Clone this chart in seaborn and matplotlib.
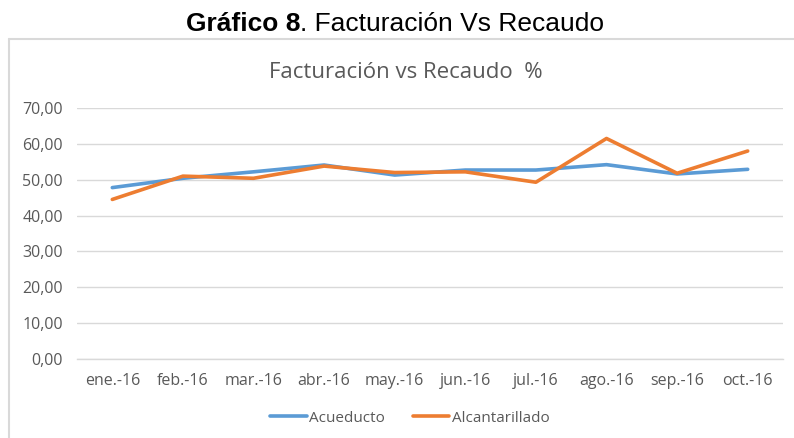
import pandas as pd
import matplotlib
matplotlib.use("Agg")
import matplotlib.pyplot as plt
import seaborn as sns
from matplotlib.lines import Line2D
from matplotlib.ticker import FuncFormatter, FixedLocator

# Datos
meses = ['ene.-16', 'feb.-16', 'mar.-16', 'abr.-16', 'may.-16',
         'jun.-16', 'jul.-16', 'ago.-16', 'sep.-16', 'oct.-16']
acueducto = [47.8, 50.4, 52.2, 54.1, 51.3, 52.7, 52.7, 54.2, 51.6, 52.9]
alcantarillado = [44.5, 51.0, 50.4, 53.8, 52.0, 52.2, 49.3, 61.5, 51.8, 58.0]

df = pd.DataFrame({'mes': meses, 'Acueducto': acueducto, 'Alcantarillado': alcantarillado})
df_long = df.melt(id_vars='mes', var_name='serie', value_name='valor')

sns.set_style('white')
plt.rcParams['font.family'] = ['Open Sans', 'DejaVu Sans']

gris = '#595959'
colores = {'Acueducto': '#5b9bd5', 'Alcantarillado': '#ed7d31'}

fig = plt.figure(figsize=(7.94, 4.38), dpi=100)
ax = fig.add_axes([77 / 794, 1 - 359 / 438, (783 - 77) / 794, (359 - 108) / 438])

sns.lineplot(data=df_long, x='mes', y='valor', hue='serie', palette=colores,
             linewidth=2.6, ax=ax, legend=False, sort=False)

ax.set_xlim(-0.5, len(meses) - 0.5)
ax.set_ylim(0, 70)
ax.set_yticks(range(0, 71, 10))
ax.yaxis.set_major_formatter(FuncFormatter(lambda v, p: f'{v:.2f}'.replace('.', ',')))
ax.grid(axis='y', color='#d9d9d9', linewidth=1)
ax.set_axisbelow(True)
for s in ['top', 'right', 'left']:
    ax.spines[s].set_visible(False)
ax.spines['bottom'].set_color('#d9d9d9')
ax.spines['bottom'].set_linewidth(1)

ax.xaxis.set_minor_locator(FixedLocator([i - 0.5 for i in range(len(meses) + 1)]))
ax.tick_params(axis='x', which='major', length=0, pad=10, labelsize=11.5, labelcolor=gris)
ax.tick_params(axis='x', which='minor', length=5, color='#d9d9d9', width=1)
ax.tick_params(axis='y', length=0, pad=10, labelsize=11.5, labelcolor=gris)
ax.set_xlabel('')
ax.set_ylabel('')

# Título interno
fig.text(406 / 794, 1 - 72 / 438, 'Facturación vs Recaudo  %', ha='center', va='center',
         fontsize=16, color=gris)

# Título externo
fig.text(300 / 794, 1 - 24 / 438, 'Gráfico 8', ha='right', va='center', fontsize=19,
         fontweight='bold', family=['Liberation Sans', 'DejaVu Sans'], color='black')
fig.text(300 / 794, 1 - 24 / 438, '. Facturación Vs Recaudo', ha='left', va='center',
         fontsize=19, family=['Liberation Sans', 'DejaVu Sans'], color='black')

# Borde del área del gráfico
fig.add_artist(Line2D([8.5 / 794, 8.5 / 794], [0, 1 - 38.5 / 438], transform=fig.transFigure,
                      color='#d9d9d9', linewidth=1.5))
fig.add_artist(Line2D([8.5 / 794, 1], [1 - 38.5 / 438, 1 - 38.5 / 438], transform=fig.transFigure,
                      color='#d9d9d9', linewidth=1.5))

# Leyenda
handles = [Line2D([], [], color=colores[k], linewidth=2.6) for k in colores]
fig.legend(handles, list(colores), loc='center', bbox_to_anchor=(410 / 794, 1 - 418 / 438),
           ncol=2, frameon=False, fontsize=11, labelcolor=gris, handlelength=2.4,
           handletextpad=0.15, columnspacing=1.8)

fig.savefig('out.png', dpi=100)
